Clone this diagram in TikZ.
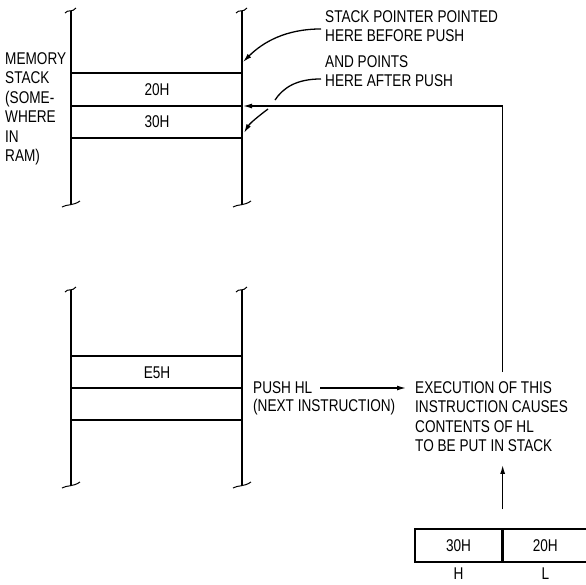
\documentclass[tikz,border=0pt]{standalone}
\usepackage{fontspec}
\setmainfont{Liberation Sans}[FakeStretch=0.8]
\usetikzlibrary{arrows.meta,positioning,calc}

\begin{document}
\begin{tikzpicture}[x=1pt, y=-1pt,
    wall/.style={line width=1.3pt},
    cell/.style={line width=1.2pt},
    brk/.style={line width=1pt},
    lbl/.style={font=\fontsize{17}{19.5}\selectfont, inner sep=0pt, align=left},
    reg/.style={draw, line width=1.3pt, minimum height=33pt, inner sep=0pt, font=\fontsize{17}{19.5}\selectfont},
    arr/.style={-{Latex[length=9pt,width=5pt]}, line width=1.3pt},
    ptr/.style={line width=1.3pt}
]
\useasboundingbox (0,0) rectangle (586,584);

% memory stack (top)
\foreach \x in {71,242} {
  \draw[wall] (\x,11) -- (\x,204);
  \draw[brk] (\x-6,13) .. controls (\x-3,9) and (\x+1,13) .. (\x+5,8);
  \draw[brk] (\x-9,207) .. controls (\x-4,204) and (\x+2,206) .. (\x+9,201);
}
\foreach \y in {73,106,138} \draw[cell] (71,\y) -- (242,\y);

% program memory (bottom)
\foreach \x in {71,242} {
  \draw[wall] (\x,290) -- (\x,485);
  \draw[brk] (\x-6,292) .. controls (\x-3,288) and (\x+1,292) .. (\x+5,287);
  \draw[brk] (\x-9,488) .. controls (\x-4,485) and (\x+2,487) .. (\x+9,482);
}
\foreach \y in {356,388,420} \draw[cell] (71,\y) -- (242,\y);

\node[lbl, anchor=north west] (memory) at (5,52) {MEMORY\\STACK\\(SOME-\\WHERE\\IN\\RAM)};
\node[lbl] (v20) at (157,90) {20H};
\node[lbl] (v30) at (157,122) {30H};
\node[lbl] (ve5) at (157,373) {E5H};

\node[lbl, anchor=north west] (before) at (325,10) {STACK POINTER POINTED\\HERE BEFORE PUSH};
\node[lbl, anchor=north west] (after) at (325,55) {AND POINTS\\HERE AFTER PUSH};

\coordinate (sp-old) at (243,62);
\coordinate (sp-new) at (243,106);
\coordinate (sp-low) at (244,133);
\coordinate (gap-a) at (275,100);
\coordinate (gap-b) at (268,109);

\draw[arr] ($(before.west)+(-4,3)$) .. controls +(-35,0) and +(20,-20) .. (sp-old);
\draw[ptr] ($(after.west)+(-4,8)$) .. controls +(-25,0) and +(8,-12) .. (gap-a);
\draw[arr] (gap-b) .. controls +(-8,6) and +(6,-10) .. (sp-low);

\node[lbl, anchor=west] (push) at (253,388) {PUSH HL};
\node[lbl, anchor=west] (next) at (253,407) {(NEXT INSTRUCTION)};
\node[lbl, anchor=north west] (exec) at (415,381) {EXECUTION OF THIS\\INSTRUCTION CAUSES\\CONTENTS OF HL\\TO BE PUT IN STACK};

\draw[arr, shorten <=8pt, shorten >=9pt] (push.east) -- (push.east -| exec.west);

% HL register
\node[reg, minimum width=87pt] (hreg) at (458.5,545.5) {30H};
\node[reg, minimum width=84pt, right=0pt of hreg] (lreg) {20H};
\node[lbl, below=5pt of hreg] (hlbl) {H};
\node[lbl, below=5pt of lreg] (llbl) {L};

\draw[arr] ($(hreg.north east)+(0,-19)$) -- ($(exec.south -| hreg.east)+(0,13)$);
\draw[arr] ($(exec.north -| hreg.east)+(0,-9)$) -- (hreg.east |- sp-new) -- (sp-new);
\end{tikzpicture}
\end{document}
